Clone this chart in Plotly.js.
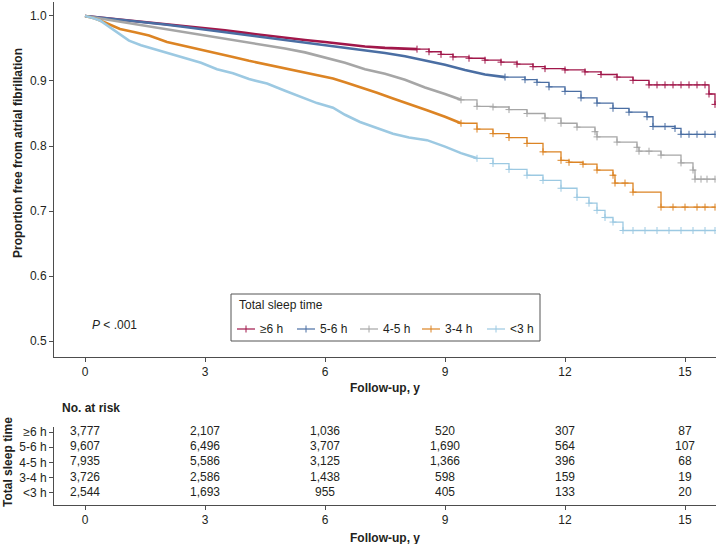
<!DOCTYPE html>
<html>
<head>
<meta charset="utf-8">
<script src="https://cdn.plot.ly/plotly-3.0.1.min.js"></script>
<style>html,body{margin:0;padding:0;background:#fff;}#chart{width:718px;height:544px;}</style>
</head>
<body>
<div id="chart"></div>
<script>
// ---- Data ----
const groups = ["≥6 h", "5-6 h", "4-5 h", "3-4 h", "<3 h"];
const colors = ["#a1174a", "#4a6ea3", "#a6a6a6", "#dc8424", "#9cc9e2"];

const timeGE6 = [0,0.5,1,1.5,2,2.5,3,3.5,4,4.5,5,5.5,6,6.5,7,7.5,8,8.3,8.6,8.9,9.2,9.6,10,10.4,10.8,11.2,11.5,12,12.5,12.9,13.3,13.7,14.1,14.3,14.5,14.7,14.9,15.1,15.3,15.5,15.6,15.75];
const survGE6 = [1.0,0.997,0.994,0.991,0.988,0.985,0.981,0.978,0.974,0.970,0.966,0.963,0.960,0.956,0.953,0.951,0.950,0.949,0.945,0.941,0.937,0.935,0.932,0.929,0.926,0.922,0.919,0.917,0.914,0.910,0.906,0.901,0.894,0.894,0.894,0.894,0.894,0.894,0.894,0.894,0.880,0.864];

const time56 = [0,0.5,1,1.5,2,2.5,3,3.5,4,4.5,5,5.5,6,6.5,7,7.5,8,8.5,9,9.5,10,10.5,11,11.3,11.6,12,12.4,12.8,13.2,13.6,14.05,14.2,14.5,14.75,14.9,15.1,15.3,15.5,15.75];
const surv56 = [1.0,0.997,0.994,0.991,0.987,0.983,0.979,0.975,0.971,0.967,0.964,0.960,0.956,0.952,0.948,0.943,0.938,0.932,0.925,0.917,0.910,0.906,0.902,0.898,0.891,0.884,0.874,0.866,0.858,0.852,0.845,0.830,0.830,0.827,0.818,0.818,0.818,0.818,0.818];

const time45 = [0,0.5,1,1.5,2,2.5,3,3.5,4,4.5,5,5.5,6,6.5,7,7.5,8,8.5,9,9.4,9.8,10.2,10.6,11.05,11.5,11.9,12.3,12.75,12.8,13.3,13.8,13.85,14.1,14.4,14.9,15.2,15.25,15.4,15.55,15.75];
const surv45 = [1.0,0.995,0.990,0.985,0.980,0.975,0.970,0.966,0.961,0.956,0.950,0.944,0.936,0.928,0.918,0.911,0.902,0.890,0.880,0.871,0.861,0.860,0.856,0.850,0.843,0.835,0.829,0.822,0.814,0.806,0.798,0.792,0.792,0.786,0.774,0.763,0.749,0.749,0.749,0.749];

const time34 = [0,0.25,0.5,0.875,1.25,1.6,2.05,2.5,2.9,3.3,3.7,4.1,4.55,5,5.4,5.8,6.2,6.5,6.875,7.3,7.7,8.1,8.55,9,9.4,9.8,10.2,10.6,11.05,11.45,11.9,12.1,12.45,12.8,13.2,13.25,13.5,13.7,14.4,14.7,15.0,15.3,15.5,15.75];
const surv34 = [1.0,0.996,0.990,0.980,0.975,0.970,0.960,0.954,0.948,0.943,0.937,0.931,0.925,0.920,0.914,0.909,0.904,0.898,0.891,0.882,0.873,0.864,0.855,0.845,0.835,0.826,0.819,0.813,0.804,0.791,0.778,0.775,0.772,0.763,0.755,0.743,0.743,0.729,0.706,0.706,0.706,0.706,0.706,0.706];

const timeLT3 = [0,0.2,0.375,0.6,0.875,1.1,1.4,1.8,2.2,2.6,2.9,3.3,3.7,4.1,4.55,5,5.4,5.8,6.2,6.5,6.875,7.3,7.7,8.1,8.55,9,9.4,9.8,10.2,10.6,11.05,11.45,11.9,12.3,12.6,12.8,13.0,13.2,13.45,13.7,14.0,14.3,14.6,14.9,15.2,15.5,15.75];
const survLT3 = [1.0,0.997,0.993,0.983,0.971,0.962,0.955,0.948,0.941,0.933,0.928,0.918,0.912,0.903,0.896,0.885,0.875,0.866,0.859,0.848,0.837,0.828,0.819,0.813,0.809,0.799,0.789,0.781,0.773,0.764,0.755,0.747,0.735,0.721,0.712,0.701,0.690,0.683,0.670,0.670,0.670,0.670,0.670,0.670,0.670,0.670,0.670];

// time (y) up to which the curve is a dense band of many small steps
const denseUntil = [8.3, 10.5, 9.4, 9.4, 9.8];

const riskTimes = [0, 3, 6, 9, 12, 15];
const riskGE6 = ["3,777", "2,107", "1,036", "520", "307", "87"];
const risk56  = ["9,607", "6,496", "3,707", "1,690", "564", "107"];
const risk45  = ["7,935", "5,586", "3,125", "1,366", "396", "68"];
const risk34  = ["3,726", "2,586", "1,438", "598", "159", "19"];
const riskLT3 = ["2,544", "1,693", "955", "405", "133", "20"];

const xTicks = [0, 3, 6, 9, 12, 15];
const yTicks = [0.5, 0.6, 0.7, 0.8, 0.9, 1.0];
const yTickText = ["0.5", "0.6", "0.7", "0.8", "0.9", "1.0"];

// ---- Build figure ----
const times = [timeGE6, time56, time45, time34, timeLT3];
const survs = [survGE6, surv56, surv45, surv34, survLT3];
const risks = [riskGE6, risk56, risk45, risk34, riskLT3];
const rowPos = [5, 4, 3, 2, 1];

const FONT = "Liberation Sans, Arial, Helvetica, sans-serif";
const TXT = "#231f20";
const AX = "#4d4d4d";

const traces = [];
groups.forEach((g, i) => {
  const t = times[i], s = survs[i];
  const k = t.findIndex(v => v >= denseUntil[i]);
  // dense early band
  traces.push({
    x: t.slice(0, k + 1), y: s.slice(0, k + 1), type: "scatter", mode: "lines",
    name: g, showlegend: false,
    line: {shape: "linear", color: colors[i], width: 2.6},
    xaxis: "x", yaxis: "y", hoverinfo: "skip"
  });
  // sparse later steps with censor marks
  traces.push({
    x: t.slice(k), y: s.slice(k), type: "scatter", mode: "lines+markers",
    name: g, showlegend: false,
    line: {shape: "hv", color: colors[i], width: 1.3},
    marker: {symbol: "cross-thin-open", size: 5, line: {color: colors[i], width: 1}},
    xaxis: "x", yaxis: "y", hoverinfo: "skip"
  });
});
groups.forEach((g, i) => {
  traces.push({
    x: riskTimes, y: riskTimes.map(() => rowPos[i]), text: risks[i],
    type: "scatter", mode: "text", textposition: "middle center",
    textfont: {family: FONT, size: 12, color: TXT},
    showlegend: false, xaxis: "x2", yaxis: "y2", hoverinfo: "skip", cliponaxis: false
  });
});

// pixel helpers for layout-only placements (plot area: x 54..716, y 2..505)
const L = 54, R = 2, T = 2, B = 39, W = 718, H = 544;
const pw = W - L - R, ph = H - T - B;
const px = v => (v - L) / pw;
const py = v => (H - B - v) / ph;

const shapes = [];
const annotations = [];

// custom legend box
shapes.push({type: "rect", xref: "paper", yref: "paper", x0: px(231), x1: px(540), y0: py(341), y1: py(294),
  line: {color: "#555", width: 1}, fillcolor: "rgba(255,255,255,0)"});
annotations.push({xref: "paper", yref: "paper", x: px(237), y: py(305), xanchor: "left", yanchor: "middle",
  text: "Total sleep time", showarrow: false, font: {family: FONT, size: 12, color: TXT}});
const legStart = [237, 297, 360, 422, 487];
groups.forEach((g, i) => {
  const x0 = legStart[i], yc = 329;
  shapes.push({type: "line", xref: "paper", yref: "paper", x0: px(x0), x1: px(x0 + 18), y0: py(yc), y1: py(yc),
    line: {color: colors[i], width: 1.2}});
  shapes.push({type: "line", xref: "paper", yref: "paper", x0: px(x0 + 9), x1: px(x0 + 9), y0: py(yc - 3.5), y1: py(yc + 3.5),
    line: {color: colors[i], width: 1}});
  annotations.push({xref: "paper", yref: "paper", x: px(x0 + 21), y: py(yc), xanchor: "left", yanchor: "middle",
    text: g, showarrow: false, font: {family: FONT, size: 12, color: TXT}});
});

// titles and labels
annotations.push({xref: "paper", yref: "paper", x: px(18), y: py(153), textangle: -90, xanchor: "center", yanchor: "middle",
  text: "<b>Proportion free from atrial fibrillation</b>", showarrow: false, font: {family: FONT, size: 12, color: TXT}});
annotations.push({xref: "paper", yref: "paper", x: px(385), y: py(388), xanchor: "center", yanchor: "middle",
  text: "<b>Follow-up, y</b>", showarrow: false, font: {family: FONT, size: 12, color: TXT}});
annotations.push({xref: "paper", yref: "paper", x: px(385), y: py(538), xanchor: "center", yanchor: "middle",
  text: "<b>Follow-up, y</b>", showarrow: false, font: {family: FONT, size: 12, color: TXT}});
annotations.push({xref: "paper", yref: "paper", x: px(60), y: py(408), xanchor: "left", yanchor: "middle",
  text: "<b>No. at risk</b>", showarrow: false, font: {family: FONT, size: 12, color: TXT}});
annotations.push({xref: "paper", yref: "paper", x: px(8), y: py(462), textangle: -90, xanchor: "center", yanchor: "middle",
  text: "<b>Total sleep time</b>", showarrow: false, font: {family: FONT, size: 12, color: TXT}});
annotations.push({xref: "paper", yref: "paper", x: px(90), y: py(325), xanchor: "left", yanchor: "middle",
  text: "<i>P</i> < .001", showarrow: false, font: {family: FONT, size: 12, color: TXT}});

const axisCommon = {
  showgrid: false, zeroline: false, showline: true, linecolor: AX, linewidth: 1,
  ticks: "outside", ticklen: 4, tickcolor: AX, tickwidth: 1,
  tickfont: {family: FONT, size: 12, color: TXT}
};

const layout = {
  width: W, height: H,
  margin: {l: L, r: R, t: T, b: B, pad: 0},
  paper_bgcolor: "#fff", plot_bgcolor: "#fff",
  showlegend: false,
  font: {family: FONT, size: 12, color: TXT},
  xaxis: Object.assign({}, axisCommon, {domain: [0, 1], range: [-0.775, 15.775], tickvals: xTicks, anchor: "y"}),
  yaxis: Object.assign({}, axisCommon, {domain: [0.2942, 1], range: [0.4754, 1.0215], tickvals: yTicks, ticktext: yTickText, anchor: "x"}),
  xaxis2: Object.assign({}, axisCommon, {domain: [0, 1], range: [-0.775, 15.775], tickvals: xTicks, anchor: "y2"}),
  yaxis2: Object.assign({}, axisCommon, {domain: [0, 0.1551], range: [0.21, 5.33], tickvals: rowPos, ticktext: groups, anchor: "x2"}),
  shapes: shapes,
  annotations: annotations
};

Plotly.newPlot("chart", traces, layout, {displayModeBar: false, staticPlot: true});
</script>
</body>
</html>
